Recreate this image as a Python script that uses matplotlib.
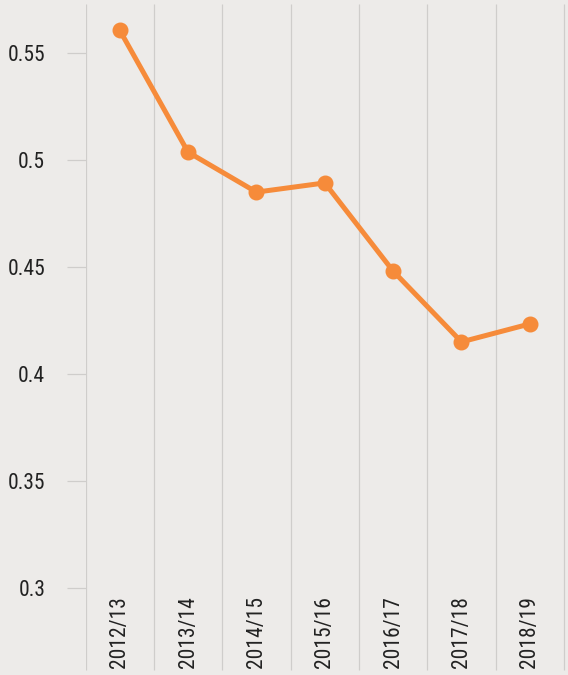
import matplotlib.pyplot as plt

# Data
years = ['2012/13', '2013/14', '2014/15', '2015/16', '2016/17', '2017/18', '2018/19']
values = [0.5607, 0.5037, 0.485, 0.4893, 0.4481, 0.415, 0.4234]
yticks = [0.3, 0.35, 0.4, 0.45, 0.5, 0.55]
ytick_labels = ['0.3', '0.35', '0.4', '0.45', '0.5', '0.55']

bg = '#edebe9'
orange = '#f68b3a'
grid_col = '#cfcdcb'
text_col = '#222222'

plt.rcParams['font.family'] = ['Roboto Condensed', 'Roboto', 'DejaVu Sans']

fig = plt.figure(figsize=(5.68, 6.75), dpi=100, facecolor=bg)
ax = fig.add_axes([85.5 / 568, 0, 1 - 85.5 / 568, 1])
ax.set_facecolor(bg)

n = len(years)
x = list(range(n))
unit = 68.36
ax.set_xlim(-0.5, -0.5 + (568 - 85.5) / unit)
ax.set_ylim(0.2593, 0.5748)

# vertical separators between categories
bounds = [i - 0.5 for i in range(n + 2)]
ax.vlines(bounds, 0.2617, 0.5729, colors=grid_col, linewidth=0.9, zorder=1)

ax.plot(x, values, color=orange, linewidth=3.6, marker='o', markersize=10.5,
        solid_capstyle='round', zorder=3)

for i, lab in enumerate(years):
    ax.text(i, 0.2626, lab, rotation=90, ha='center', va='bottom',
            fontsize=15.5, color=text_col, zorder=2)

ax.set_xticks([])
ax.set_yticks(yticks)
ax.set_yticklabels(ytick_labels)
ax.tick_params(axis='y', direction='out', length=14, width=0.9, color=grid_col,
               pad=15, labelsize=15.5, labelcolor=text_col)
for s in ax.spines.values():
    s.set_visible(False)

fig.savefig('out.png', dpi=100, facecolor=bg)
